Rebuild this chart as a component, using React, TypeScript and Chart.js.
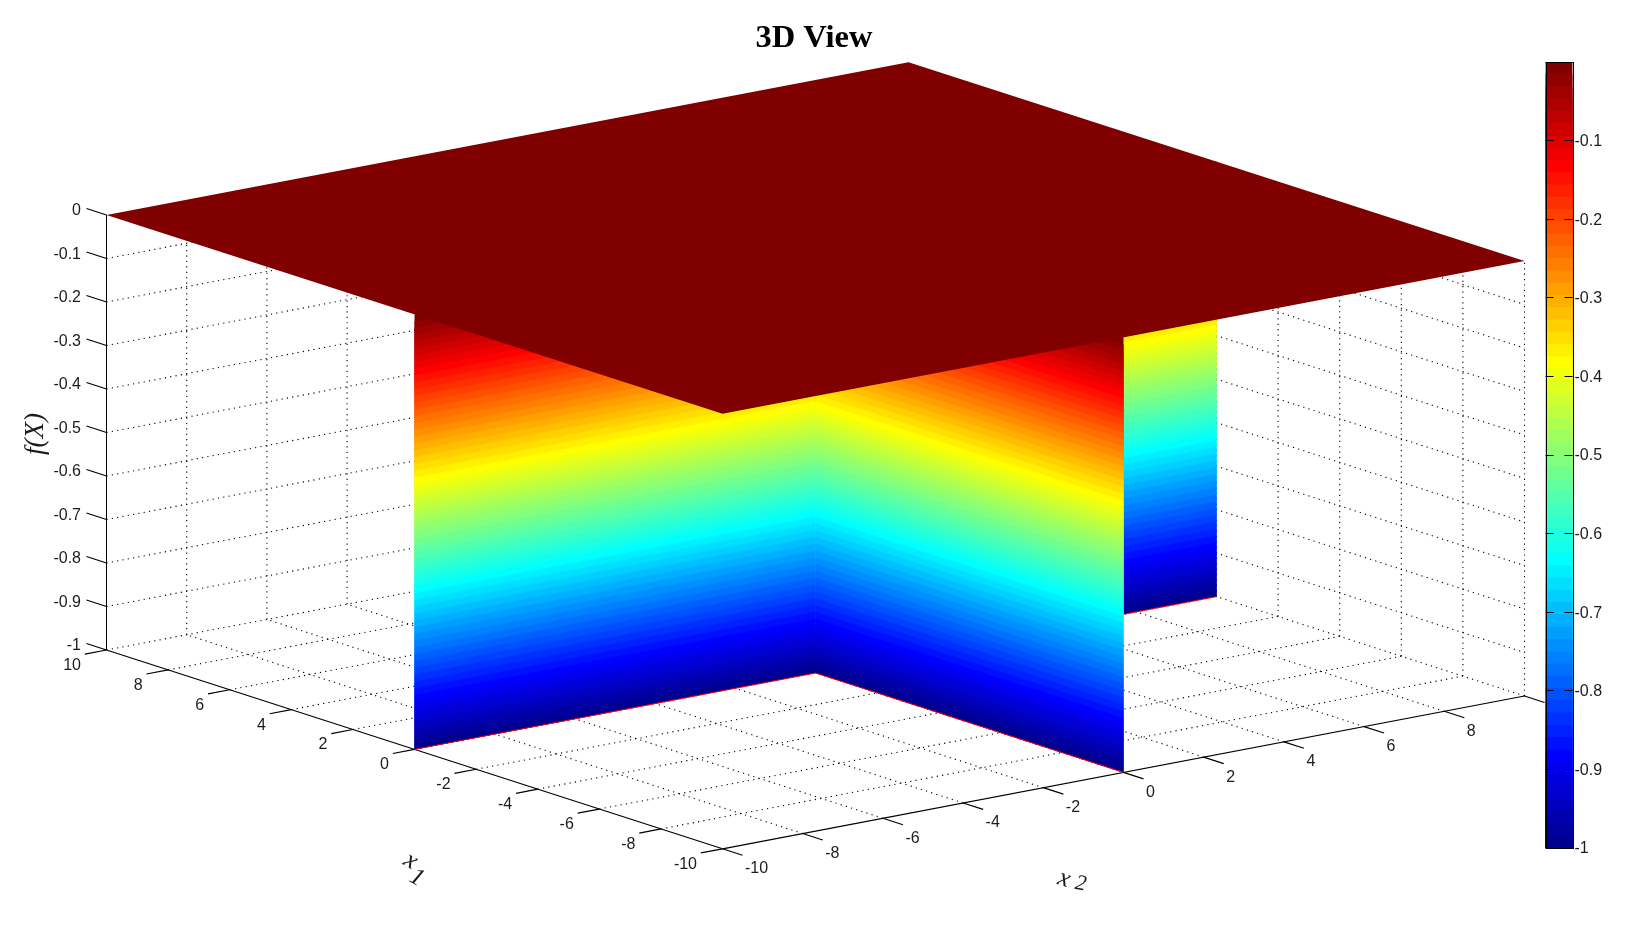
import React, { useEffect, useRef } from "react";
import { Chart, registerables } from "chart.js";

Chart.register(...registerables);

// ---------- data ----------
const X1_TICKS = [10, 8, 6, 4, 2, 0, -2, -4, -6, -8, -10];
const X2_TICKS = [-10, -8, -6, -4, -2, 0, 2, 4, 6, 8, 10];
const Z_TICKS = [0, -0.1, -0.2, -0.3, -0.4, -0.5, -0.6, -0.7, -0.8, -0.9, -1];
const CB_TICKS = [0, -0.1, -0.2, -0.3, -0.4, -0.5, -0.6, -0.7, -0.8, -0.9, -1];

// walls of the step function: [x1 start, x2 start, x1 end, x2 end], back to front
const WALLS = [
  [0, 0, 0, 10],
  [0, 0, -10, 0],
  [0, -10, 0, 0],
];
// the flat top of the surface at f = 0
const PLATE_X1 = [10, 10, -10, -10];
const PLATE_X2 = [-10, 10, 10, -10];
const Z_MIN = -1;
const Z_TOP = 0;

const JET_COLORS = [
  "#00008f", "#00009f", "#0000af", "#0000bf", "#0000cf", "#0000df", "#0000ef", "#0000ff",
  "#0010ff", "#0020ff", "#0030ff", "#0040ff", "#0050ff", "#0060ff", "#0070ff", "#0080ff",
  "#008fff", "#009fff", "#00afff", "#00bfff", "#00cfff", "#00dfff", "#00efff", "#00ffff",
  "#10ffef", "#20ffdf", "#30ffcf", "#40ffbf", "#50ffaf", "#60ff9f", "#70ff8f", "#80ff80",
  "#8fff70", "#9fff60", "#afff50", "#bfff40", "#cfff30", "#dfff20", "#efff10", "#ffff00",
  "#ffef00", "#ffdf00", "#ffcf00", "#ffbf00", "#ffaf00", "#ff9f00", "#ff8f00", "#ff8000",
  "#ff7000", "#ff6000", "#ff5000", "#ff4000", "#ff3000", "#ff2000", "#ff1000", "#ff0000",
  "#ef0000", "#df0000", "#cf0000", "#bf0000", "#af0000", "#9f0000", "#8f0000", "#800000",
];
// upper f value of every colour band
const BAND_TOPS = [
  -0.9844, -0.9688, -0.9531, -0.9375, -0.9219, -0.9063, -0.8906, -0.875,
  -0.8594, -0.8438, -0.8281, -0.8125, -0.7969, -0.7813, -0.7656, -0.75,
  -0.7344, -0.7188, -0.7031, -0.6875, -0.6719, -0.6563, -0.6406, -0.625,
  -0.6094, -0.5938, -0.5781, -0.5625, -0.5469, -0.5313, -0.5156, -0.5,
  -0.4844, -0.4688, -0.4531, -0.4375, -0.4219, -0.4063, -0.3906, -0.375,
  -0.3594, -0.3438, -0.3281, -0.3125, -0.2969, -0.2813, -0.2656, -0.25,
  -0.2344, -0.2188, -0.2031, -0.1875, -0.1719, -0.1563, -0.1406, -0.125,
  -0.1094, -0.0938, -0.0781, -0.0625, -0.0469, -0.0313, -0.0156, 0,
];

// ---------- view: orthographic projection of (x1, x2, f) on the plane ----------
const VIEW = {
  cx: 815.5, cy: 238,
  x1: [-30.8, -9.94],
  x2: [40.1, -7.64],
  z: 435,
};
const project = (x1: number, x2: number, z: number) => ({
  x: VIEW.cx + x1 * VIEW.x1[0] + x2 * VIEW.x2[0],
  y: VIEW.cy + x1 * VIEW.x1[1] + x2 * VIEW.x2[1] - z * VIEW.z,
});

const MAIN_W = 1628;
const H = 945;
const TITLE_SIZE = 32.5;
const TITLE_PAD = 19.5;
const TITLE_H = TITLE_PAD + TITLE_SIZE * 1.2;

const AXIS = "#000000";
const TEXT = "#1c1c1c";
const SANS = '"Liberation Sans", Arial, sans-serif';
const SERIF = '"Liberation Serif", "Times New Roman", serif';

type P = { x: number; y: number };
const line = (pts: P[], color: string, width: number, dash: number[] = []) => ({
  data: pts,
  showLine: true,
  fill: false,
  borderColor: color,
  borderWidth: width,
  borderDash: dash,
  pointRadius: 0,
  tension: 0,
});
const polygon = (pts: P[], color: string) => ({
  data: pts,
  showLine: true,
  fill: "shape",
  backgroundColor: color,
  borderColor: color,
  borderWidth: 0,
  pointRadius: 0,
  tension: 0,
});

function buildDatasets() {
  const paint: any[] = [];
  const DOT = [1.2, 4.2];
  // wall grids
  for (const z of Z_TICKS) {
    if (z === Z_MIN || z === Z_TOP) continue;
    paint.push(line([project(10, -10, z), project(10, 10, z), project(-10, 10, z)], AXIS, 1.1, DOT));
  }
  for (const t of X2_TICKS) {
    if (t === -10) continue;
    paint.push(line([project(10, t, Z_MIN), project(10, t, Z_TOP)], AXIS, 1.1, DOT));
  }
  for (const t of X1_TICKS) {
    if (t === 10) continue;
    paint.push(line([project(t, 10, Z_MIN), project(t, 10, Z_TOP)], AXIS, 1.1, DOT));
  }
  // floor grid
  for (const t of X2_TICKS) {
    if (t === -10) continue;
    paint.push(line([project(-10, t, Z_MIN), project(10, t, Z_MIN)], AXIS, 1.1, DOT));
  }
  for (const t of X1_TICKS) {
    if (t === -10) continue;
    paint.push(line([project(t, -10, Z_MIN), project(t, 10, Z_MIN)], AXIS, 1.1, DOT));
  }
  // solid axes and tick marks
  paint.push(line([project(10, -10, Z_MIN), project(10, -10, Z_TOP)], AXIS, 1));
  paint.push(line([project(10, -10, Z_MIN), project(-10, -10, Z_MIN)], AXIS, 1.2));
  paint.push(line([project(-10, -10, Z_MIN), project(-10, 10, Z_MIN)], AXIS, 1.2));
  for (const z of Z_TICKS) {
    paint.push(line([project(10, -10, z), project(10.65, -10, z)], AXIS, 1.2));
  }
  for (const t of X1_TICKS) {
    paint.push(line([project(t, -10, Z_MIN), project(t, -10.54, Z_MIN)], AXIS, 1.2));
  }
  for (const t of X2_TICKS) {
    paint.push(line([project(-10, t, Z_MIN), project(-10.65, t, Z_MIN)], AXIS, 1.2));
  }
  // walls: each band overlaps a few bands below it, and those paint over it
  for (const [a1, a2, b1, b2] of WALLS) {
    for (let i = BAND_TOPS.length - 1; i >= 0; i--) {
      const top = BAND_TOPS[i];
      const low = i >= 3 ? BAND_TOPS[i - 3] : Z_MIN;
      paint.push(
        polygon(
          [project(a1, a2, top), project(b1, b2, top), project(b1, b2, low), project(a1, a2, low)],
          JET_COLORS[i]
        )
      );
    }
    paint.push(line([project(a1, a2, Z_MIN), project(b1, b2, Z_MIN)], "#ff0000", 1));
  }
  // top plate
  paint.push(polygon(PLATE_X1.map((x, i) => project(x, PLATE_X2[i], Z_TOP)), JET_COLORS[JET_COLORS.length - 1]));
  return paint.reverse();
}

const axisText = {
  id: "axisText",
  afterDraw(chart: any) {
    const { ctx, scales } = chart;
    const sx = (p: P) => scales.x.getPixelForValue(p.x);
    const sy = (p: P) => scales.y.getPixelForValue(p.y);
    ctx.save();
    ctx.fillStyle = TEXT;
    ctx.font = `16px ${SANS}`;
    ctx.textBaseline = "middle";

    ctx.textAlign = "right";
    Z_TICKS.forEach((z) => {
      const p = project(10, -10, z);
      ctx.fillText(String(z), sx(p) - 25.5, sy(p) - 4);
    });
    X1_TICKS.forEach((t) => {
      const p = project(t, -10, Z_MIN);
      ctx.fillText(String(t), sx(p) - 25.5, sy(p) + 15.5);
    });
    ctx.textAlign = "left";
    X2_TICKS.forEach((t) => {
      const p = project(-10, t, Z_MIN);
      ctx.fillText(String(t), sx(p) + 22.5, sy(p) + 20);
    });

    const glyph = (s: string, px: number, py: number, deg: number, size: number) => {
      ctx.save();
      ctx.translate(px, py);
      ctx.rotate((deg * Math.PI) / 180);
      ctx.textAlign = "center";
      ctx.textBaseline = "middle";
      ctx.font = `italic ${size}px ${SERIF}`;
      ctx.fillText(s, 0, 0);
      ctx.restore();
    };
    glyph("f(X)", 36, 434, -90, 27);
    glyph("x", 410.7, 861, 30, 26);
    glyph("1", 416.7, 878, 30, 25);
    glyph("x", 1064, 879, 18, 26);
    glyph("2", 1080.7, 884, 10, 22);
    ctx.restore();
  },
};

const colorbarFrame = {
  id: "colorbarFrame",
  afterDraw(chart: any) {
    const { ctx, chartArea: a } = chart;
    ctx.save();
    ctx.strokeStyle = "#000";
    ctx.lineWidth = 1;
    const l = Math.round(a.left) + 0.5;
    const t = Math.round(a.top) + 0.5;
    ctx.strokeRect(l, t, Math.round(a.right - a.left), Math.round(a.bottom - a.top));
    ctx.restore();
  },
};

export default function App() {
  const mainRef = useRef<HTMLCanvasElement | null>(null);
  const barRef = useRef<HTMLCanvasElement | null>(null);

  useEffect(() => {
    const main = new Chart(mainRef.current as HTMLCanvasElement, {
      type: "scatter",
      data: { datasets: buildDatasets() },
      plugins: [axisText],
      options: {
        animation: false,
        responsive: false,
        devicePixelRatio: 1,
        layout: { padding: 0 },
        events: [],
        scales: {
          x: { type: "linear", display: false, min: 0, max: MAIN_W },
          y: { type: "linear", display: false, min: TITLE_H, max: H, reverse: true },
        },
        plugins: {
          legend: { display: false },
          tooltip: { enabled: false },
          title: {
            display: true,
            text: "3D View",
            color: "#000",
            padding: { top: TITLE_PAD, bottom: 0 },
            font: { family: SERIF, size: TITLE_SIZE, weight: "bold", lineHeight: 1.2 },
          },
        },
      },
    } as any);

    const bar = new Chart(barRef.current as HTMLCanvasElement, {
      type: "bar",
      data: {
        labels: ["f"],
        datasets: JET_COLORS.map((c, i) => ({
          data: [[Z_MIN, BAND_TOPS[i]]],
          backgroundColor: c,
          borderWidth: 0,
          barPercentage: 1,
          categoryPercentage: 1,
          grouped: false,
        })),
      },
      plugins: [colorbarFrame],
      options: {
        animation: false,
        responsive: false,
        devicePixelRatio: 1,
        events: [],
        layout: { padding: { left: 15.5, top: 62, bottom: 97, right: 0 } },
        scales: {
          x: { display: false },
          y: {
            position: "right",
            min: Z_MIN,
            max: Z_TOP,
            afterBuildTicks: (s: any) => {
              s.ticks = CB_TICKS.map((value) => ({ value }));
            },
            afterFit: (s: any) => {
              s.width = 59.5;
            },
            ticks: {
              padding: 2,
              labelOffset: 1,
              color: TEXT,
              font: { family: SANS, size: 16 },
              autoSkip: false,
              callback: (v: number) => (v === 0 ? "" : String(v)),
            },
            grid: { color: "#000", drawTicks: false, z: 1, tickLength: 0 },
            border: { display: false, dash: [8, 11] },
          },
        },
        plugins: { legend: { display: false }, tooltip: { enabled: false }, title: { display: false } },
      },
    } as any);

    return () => {
      main.destroy();
      bar.destroy();
    };
  }, []);

  return (
    <div style={{ position: "fixed", left: 0, top: 0, width: 1632, height: H, background: "#fff" }}>
      <canvas ref={mainRef} width={MAIN_W} height={H} style={{ position: "absolute", left: 0, top: 0, display: "block" }} />
      <canvas ref={barRef} width={102} height={H} style={{ position: "absolute", left: 1530, top: 0, display: "block" }} />
    </div>
  );
}
